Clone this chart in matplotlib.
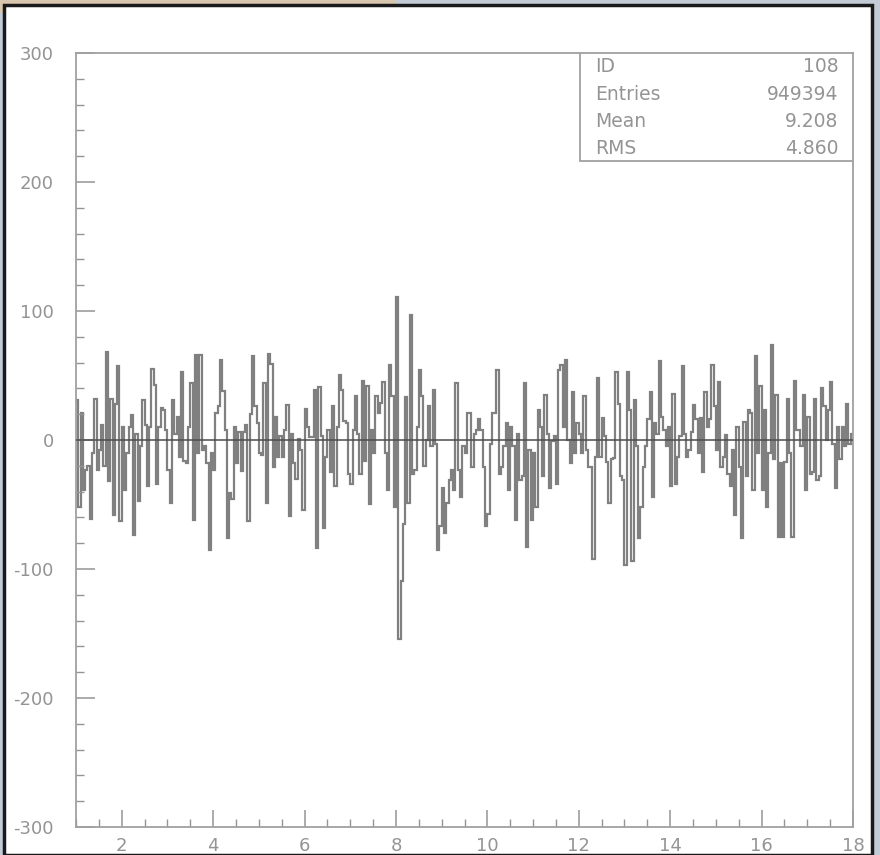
import numpy as np
import matplotlib
matplotlib.use("Agg")
import matplotlib.pyplot as plt
from matplotlib.patches import Rectangle
from matplotlib.ticker import MultipleLocator

plt.rcParams['axes.unicode_minus'] = False

# histogram range and bin contents (340 bins of width 0.05 from 1 to 18)
x_min, x_max = 1.0, 18.0
counts = [
    31, -52, 21, -39, -23, -20, -61, -10, 32, -23, -8, 12, -20, 68, -32, 32, -58, 28, 57, -63,
    10, -39, -10, 10, 19, -74, 5, -47, -5, 31, 12, -36, 10, 55, 43, -34, 10, 25, 23, 8,
    -23, -49, 31, 5, 18, -13, 53, -16, -18, 10, 44, -62, 66, -10, 66, -8, -5, -18, -85, -10,
    -23, 21, 26, 62, 38, 8, -76, -41, -46, 10, -18, 6, -24, 6, 12, -63, 20, 65, 26, 13,
    -10, -12, 44, -49, 67, 59, -21, 18, -13, 3, -13, 8, 27, -59, 5, -18, -30, 1, -8, -54,
    24, 10, 2, 2, 39, -84, 41, 3, -68, -13, 8, -25, 26, -36, 10, 50, 39, 15, 13, -26,
    -34, 8, 34, 5, -26, 46, -16, 42, -50, 8, -10, 34, 21, 29, 45, -10, -39, 58, 34, -52,
    111, -154, -109, -65, 33, -49, 97, -26, -23, 10, 54, 34, -20, 0, 26, -5, 39, -3, -85, -67,
    -37, -72, -49, -31, -23, -39, 44, -23, -44, -5, -10, 21, 21, -21, 5, 8, 16, 8, -21, -67,
    -57, -3, 21, 21, 54, -26, -21, -5, 13, -39, 10, -5, -62, 5, -31, -28, 44, -83, -8, -62,
    -10, -52, 23, 10, -28, 35, 5, -37, -1, 3, -34, 54, 58, 10, 62, 0, -18, 37, -10, 13,
    5, -10, 34, -8, -21, -21, -92, -13, 48, -13, 17, 3, -17, -49, -15, -14, 53, 28, -28, -31,
    -97, 53, 23, -94, 31, -5, -76, -52, -21, -5, 16, 37, -44, 13, 5, 61, 18, 8, -5, 10,
    -36, 36, -34, -13, 3, 57, 5, -13, -8, 6, 27, 16, -10, 17, -25, 37, 10, 16, 58, 26,
    -8, 45, -21, -13, 4, -26, -36, -8, -58, 10, -21, -76, 14, -28, 23, 21, -39, 65, -10, 42,
    -39, 23, -52, -10, 74, -15, 35, -75, -18, -75, -17, 32, -10, -75, 46, 8, 8, -5, 35, -39,
    18, -26, -25, 32, -31, -28, 40, 26, 0, 23, 45, -3, -37, 10, -15, 10, -5, 28, -3, 5,
]

stats_labels = ["ID", "Entries", "Mean", "RMS"]
stats_values = ["108", "949394", "9.208", "4.860"]

fig = plt.figure(figsize=(8.8, 8.55), dpi=100, facecolor="#c3ccd6")

# window frame around the plot (kept behind the axes)
fig.patches.append(Rectangle((0, 0.985), 0.45, 0.015, transform=fig.transFigure,
                             facecolor="#d8c6ae", edgecolor="none", zorder=-3))
fig.patches.append(Rectangle((4 / 880, 0), 868 / 880, 850 / 855, transform=fig.transFigure,
                             facecolor="white", edgecolor="#1a1a1a", linewidth=2.5, zorder=-2))

ax = fig.add_axes([76 / 880, 28 / 855, 777 / 880, 774 / 855])
ax.set_zorder(2)
ax.set_facecolor("white")

edges = np.linspace(x_min, x_max, len(counts) + 1)
ax.stairs(counts, edges, color="#808080", linewidth=1.6, baseline=None)
ax.axhline(0, color="#4d4d4d", linewidth=1.1, zorder=3)

ax.set_xlim(x_min, x_max)
ax.set_ylim(-300, 300)

ax.xaxis.set_major_locator(MultipleLocator(2))
ax.xaxis.set_minor_locator(MultipleLocator(0.5))
ax.yaxis.set_major_locator(MultipleLocator(100))
ax.yaxis.set_minor_locator(MultipleLocator(20))

ax.tick_params(axis="both", which="both", direction="in", color="#949494",
               labelcolor="#949494", labelsize=13, top=False, right=False)
ax.tick_params(axis="x", which="major", length=12, width=1.1, pad=7)
ax.tick_params(axis="x", which="minor", length=6, width=1.0)
ax.tick_params(axis="y", which="major", length=14, width=1.1, pad=16)
ax.tick_params(axis="y", which="minor", length=6, width=1.0)
ax.set_xticks([2, 4, 6, 8, 10, 12, 14, 16, 18])

for spine in ax.spines.values():
    spine.set_color("#a0a0a0")
    spine.set_linewidth(1.3)

# statistics box (PAW style)
box_left, box_bottom = 0.649, 0.860
ax.add_patch(Rectangle((box_left, box_bottom), 1 - box_left, 1 - box_bottom,
                       transform=ax.transAxes, facecolor="white",
                       edgecolor="#a0a0a0", linewidth=1.3, zorder=5))
row_y = [0.982, 0.947, 0.912, 0.877]
for label, value, yy in zip(stats_labels, stats_values, row_y):
    ax.text(0.668, yy, label, transform=ax.transAxes, fontsize=13.5,
            color="#949494", ha="left", va="center", zorder=6)
    ax.text(0.981, yy, value, transform=ax.transAxes, fontsize=13.5,
            color="#949494", ha="right", va="center", zorder=6)

fig.savefig("out.png", dpi=100, facecolor=fig.get_facecolor())
